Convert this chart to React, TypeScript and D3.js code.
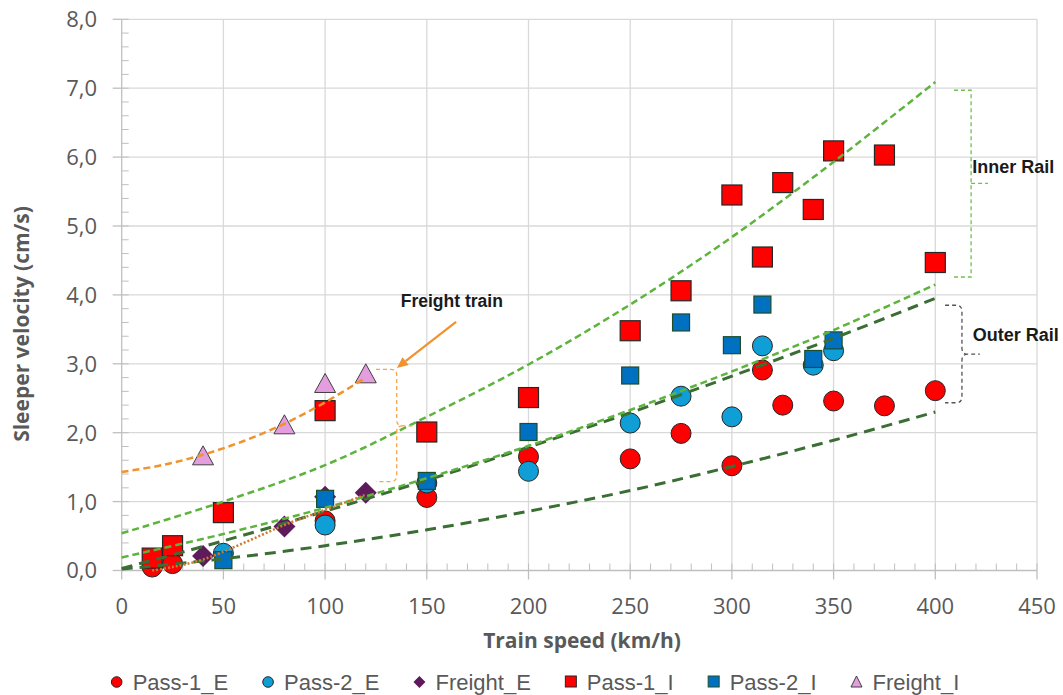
import React, { useEffect, useRef } from "react";
import * as d3 from "d3";

// ---- data ----
const pass1E_x = [15, 25, 100, 150, 200, 250, 275, 300, 315, 325, 350, 375, 400];
const pass1E_y = [0.05, 0.1, 0.72, 1.06, 1.65, 1.62, 1.99, 1.52, 2.91, 2.4, 2.46, 2.39, 2.61];
const pass2E_x = [50, 100, 150, 200, 250, 275, 300, 315, 340, 350];
const pass2E_y = [0.25, 0.66, 1.27, 1.44, 2.14, 2.53, 2.23, 3.26, 2.98, 3.19];
const freightE_x = [40, 80, 100, 120];
const freightE_y = [0.21, 0.64, 1.07, 1.13];
const pass1I_x = [15, 25, 50, 100, 150, 200, 250, 275, 300, 315, 325, 340, 350, 375, 400];
const pass1I_y = [0.18, 0.36, 0.84, 2.32, 2.01, 2.51, 3.48, 4.06, 5.45, 4.55, 5.63, 5.24, 6.09, 6.03, 4.47];
const pass2I_x = [50, 100, 150, 200, 250, 275, 300, 315, 340, 350];
const pass2I_y = [0.15, 1.04, 1.3, 2.01, 2.83, 3.6, 3.27, 3.86, 3.07, 3.34];
const freightI_x = [40, 80, 100, 120];
const freightI_y = [1.65, 2.1, 2.7, 2.84];

// trend curves
const trendX = [0, 50, 100, 150, 200, 250, 300, 350, 400];
const innerUpper = [0.54, 1.0, 1.53, 2.23, 2.99, 3.86, 4.84, 5.93, 7.09];
const innerLower = [0.19, 0.53, 0.91, 1.34, 1.81, 2.33, 2.89, 3.49, 4.15];
const outerUpper = [0.03, 0.43, 0.86, 1.31, 1.79, 2.29, 2.82, 3.37, 3.95];
const outerLower = [0.02, 0.17, 0.36, 0.59, 0.86, 1.16, 1.51, 1.89, 2.3];
const freightITrendX = [0, 20, 40, 60, 80, 100, 120];
const freightITrend = [1.43, 1.53, 1.68, 1.88, 2.13, 2.44, 2.8];
const freightETrendX = [15, 25, 40, 60, 80, 100, 120];
const freightETrend = [0.0, 0.05, 0.16, 0.4, 0.66, 0.88, 1.1];

const xTicks = [0, 50, 100, 150, 200, 250, 300, 350, 400, 450];
const yTicks = [0, 1, 2, 3, 4, 5, 6, 7, 8];
const legendNames = ["Pass-1_E", "Pass-2_E", "Freight_E", "Pass-1_I", "Pass-2_I", "Freight_I"];

const W = 1063, H = 695;

export default function App() {
  const ref = useRef<SVGSVGElement>(null);
  useEffect(() => {
    const svg = d3.select(ref.current);
    svg.selectAll("*").remove();
    const x = d3.scaleLinear().domain([0, 450]).range([121.7, 1037]);
    const y = d3.scaleLinear().domain([0, 8]).range([570.5, 19.3]);
    const gray = "#595959";
    const tickFont = "'Open Sans', sans-serif";

    // grid
    const g = svg.append("g");
    g.selectAll(".gx").data(xTicks.slice(1)).join("line")
      .attr("x1", d => x(d)).attr("x2", d => x(d)).attr("y1", y(0)).attr("y2", y(8))
      .attr("stroke", "#d9d9d9").attr("stroke-width", 1.3);
    g.selectAll(".gy").data(yTicks.slice(1)).join("line")
      .attr("x1", x(0)).attr("x2", x(450)).attr("y1", d => y(d)).attr("y2", d => y(d))
      .attr("stroke", "#d9d9d9").attr("stroke-width", 1.3);
    // minor ticks
    const yMinor = d3.range(0, 8.001, 0.2);
    g.selectAll(".my").data(yMinor).join("line")
      .attr("x1", x(0)).attr("x2", x(0) + 7).attr("y1", d => y(d)).attr("y2", d => y(d))
      .attr("stroke", "#bfbfbf").attr("stroke-width", 1);
    const xMinor = d3.range(0, 450.001, 10);
    g.selectAll(".mx").data(xMinor).join("line")
      .attr("x1", d => x(d)).attr("x2", d => x(d)).attr("y1", y(0)).attr("y2", y(0) - 7)
      .attr("stroke", "#bfbfbf").attr("stroke-width", 1);
    // major ticks
    g.selectAll(".ty").data(yTicks).join("line")
      .attr("x1", x(0) - 9).attr("x2", x(0)).attr("y1", d => y(d)).attr("y2", d => y(d))
      .attr("stroke", "#bfbfbf").attr("stroke-width", 1.3);
    g.selectAll(".tx").data(xTicks).join("line")
      .attr("x1", d => x(d)).attr("x2", d => x(d)).attr("y1", y(0)).attr("y2", y(0) + 9)
      .attr("stroke", "#bfbfbf").attr("stroke-width", 1.3);
    // axes
    g.append("line").attr("x1", x(0)).attr("x2", x(0)).attr("y1", y(0)).attr("y2", y(8))
      .attr("stroke", "#bfbfbf").attr("stroke-width", 1.3);
    g.append("line").attr("x1", x(0)).attr("x2", x(450)).attr("y1", y(0)).attr("y2", y(0))
      .attr("stroke", "#bfbfbf").attr("stroke-width", 1.3);

    // tick labels
    const fmt = (d: number) => d.toFixed(1).replace(".", ",");
    g.selectAll(".ly").data(yTicks).join("text")
      .attr("x", 97).attr("y", d => y(d)).attr("dy", "0.36em")
      .attr("text-anchor", "end").attr("font-family", tickFont).attr("font-size", 22)
      .attr("fill", gray).text(d => fmt(d));
    g.selectAll(".lx").data(xTicks).join("text")
      .attr("x", d => x(d)).attr("y", 614)
      .attr("text-anchor", "middle").attr("font-family", tickFont).attr("font-size", 22)
      .attr("fill", gray).text(d => String(d));

    // axis titles
    svg.append("text").attr("transform", `translate(29,324) rotate(-90)`)
      .attr("text-anchor", "middle").attr("font-family", tickFont).attr("font-weight", 700)
      .attr("font-size", 21).attr("fill", gray).text("Sleeper velocity (cm/s)");
    svg.append("text").attr("x", 582).attr("y", 648)
      .attr("text-anchor", "middle").attr("font-family", tickFont).attr("font-weight", 700)
      .attr("font-size", 21).attr("fill", gray).text("Train speed (km/h)");

    // markers
    const mk = svg.append("g");
    const circles = (xs: number[], ys: number[], fill: string) =>
      mk.append("g").selectAll("circle").data(xs).join("circle")
        .attr("cx", d => x(d)).attr("cy", (d, i) => y(ys[i])).attr("r", 10)
        .attr("fill", fill).attr("stroke", "#262626").attr("stroke-width", 1);
    const squares = (xs: number[], ys: number[], fill: string, s: number, stroke: string) =>
      mk.append("g").selectAll("rect").data(xs).join("rect")
        .attr("x", d => x(d) - s / 2).attr("y", (d, i) => y(ys[i]) - s / 2)
        .attr("width", s).attr("height", s)
        .attr("fill", fill).attr("stroke", stroke).attr("stroke-width", 1.2);

    circles(pass1E_x, pass1E_y, "#ff0000");
    circles(pass2E_x, pass2E_y, "#0f9ed5");
    mk.append("g").selectAll("path").data(freightE_x).join("path")
      .attr("transform", (d, i) => `translate(${x(d)},${y(freightE_y[i])})`)
      .attr("d", "M0,-11L11,0L0,11L-11,0Z").attr("fill", "#5f1a5c");
    squares(pass1I_x, pass1I_y, "#ff0000", 20, "#262626");
    squares(pass2I_x, pass2I_y, "#0070c0", 17, "#1e4d2b");
    mk.append("g").selectAll("path").data(freightI_x).join("path")
      .attr("transform", (d, i) => `translate(${x(d)},${y(freightI_y[i])})`)
      .attr("d", "M0,-11L10.5,8L-10.5,8Z").attr("fill", "#e49ddf")
      .attr("stroke", "#404040").attr("stroke-width", 1);

    // trend curves
    const tl = svg.append("g").attr("fill", "none");
    const line = d3.line<number>().curve(d3.curveCatmullRom);
    const drawTrend = (xs: number[], ys: number[], color: string, w: number, dash: string) =>
      tl.append("path")
        .attr("d", line.x(d => x(d)).y((d, i) => y(ys[i]))(xs))
        .attr("stroke", color).attr("stroke-width", w).attr("stroke-dasharray", dash);
    drawTrend(trendX, outerLower, "#3b6e34", 3, "11 7");
    drawTrend(trendX, outerUpper, "#3b6e34", 3, "11 7");
    drawTrend(trendX, innerLower, "#5cb43c", 2.5, "7 4");
    drawTrend(trendX, innerUpper, "#5cb43c", 2.5, "7 4");
    drawTrend(freightITrendX, freightITrend, "#f0922f", 2.5, "7 4");
    drawTrend(freightETrendX, freightETrend, "#d07a2e", 2.5, "2 2");

    // brackets & annotations
    const ann = svg.append("g").attr("fill", "none");
    const curly = (x0: number, x1: number, x2: number, yt: number, ym: number, yb: number) => {
      const X0 = x(x0), X1 = x(x1), X2 = x(x2), T = y(yt), M = y(ym), B = y(yb);
      const r = 6;
      return `M${X0},${T}L${X1 - r},${T}Q${X1},${T} ${X1},${T + r}L${X1},${M - r}Q${X1},${M} ${X1 + r},${M}L${X2},${M}` +
        `M${X1 + r},${M}Q${X1},${M} ${X1},${M + r}L${X1},${B - r}Q${X1},${B} ${X1 - r},${B}L${X0},${B}`;
    };
    ann.append("path").attr("d", curly(125, 135.2, 143, 2.92, 2.1, 1.29))
      .attr("stroke", "#f4a64d").attr("stroke-width", 1.3).attr("stroke-dasharray", "4 3");
    ann.append("path").attr("d", curly(404.8, 413.1, 421.9, 3.85, 3.14, 2.435))
      .attr("stroke", "#555555").attr("stroke-width", 1.3).attr("stroke-dasharray", "4 3");
    {
      const X0 = x(409.2), X1 = x(417.6), X2 = x(425.9), T = y(6.97), M = y(5.62), B = y(4.26);
      ann.append("path").attr("d", `M${X0},${T}L${X1},${T}L${X1},${B}L${X0},${B}M${X1},${M}L${X2},${M}`)
        .attr("stroke", "#70c04f").attr("stroke-width", 1.3).attr("stroke-dasharray", "4 3");
    }
    // arrow
    const ax0 = x(164.4), ay0 = y(3.61), ax1 = x(135.3), ay1 = y(2.94);
    const ang = Math.atan2(ay1 - ay0, ax1 - ax0);
    const hl = 11, hw = 5;
    const bx = ax1 - hl * Math.cos(ang), by = ay1 - hl * Math.sin(ang);
    ann.append("line").attr("x1", ax0).attr("y1", ay0).attr("x2", bx).attr("y2", by)
      .attr("stroke", "#f0922f").attr("stroke-width", 2.2);
    ann.append("path")
      .attr("d", `M${ax1},${ay1}L${bx + hw * Math.sin(ang)},${by - hw * Math.cos(ang)}L${bx - hw * Math.sin(ang)},${by + hw * Math.cos(ang)}Z`)
      .attr("fill", "#f0922f");

    const annFont = "'Liberation Sans', Arial, sans-serif";
    svg.append("text").attr("x", x(137.2)).attr("y", y(3.83)).attr("font-family", annFont)
      .attr("font-weight", 700).attr("font-size", 17.5).attr("fill", "#1a1a1a").text("Freight train");
    svg.append("text").attr("x", x(418.2)).attr("y", y(5.765)).attr("font-family", annFont)
      .attr("font-weight", 700).attr("font-size", 18).attr("fill", "#1a1a1a").text("Inner Rail");
    svg.append("text").attr("x", x(418.4)).attr("y", y(3.335)).attr("font-family", annFont)
      .attr("font-weight", 700).attr("font-size", 18).attr("fill", "#1a1a1a").text("Outer Rail");

    // legend
    const lg = svg.append("g");
    const legY = 682;
    let cx = 0;
    const gap = 40;
    const drawLegendMarker = (gg: any, i: number, px: number) => {
      if (i === 0 || i === 1) gg.append("circle").attr("cx", px).attr("cy", legY).attr("r", 5.3)
        .attr("fill", i === 0 ? "#ff0000" : "#0f9ed5").attr("stroke", "#262626").attr("stroke-width", 1);
      else if (i === 2) gg.append("path").attr("transform", `translate(${px},${legY})`)
        .attr("d", "M0,-6L6,0L0,6L-6,0Z").attr("fill", "#5f1a5c");
      else if (i === 3 || i === 4) gg.append("rect").attr("x", px - 5.5).attr("y", legY - 6).attr("width", 11).attr("height", 11)
        .attr("fill", i === 3 ? "#ff0000" : "#0070c0").attr("stroke", i === 3 ? "#262626" : "#1e4d2b").attr("stroke-width", 1);
      else gg.append("path").attr("transform", `translate(${px},${legY})`)
        .attr("d", "M0,-6L5.5,5L-5.5,5Z").attr("fill", "#e49ddf").attr("stroke", "#404040").attr("stroke-width", 1);
    };
    legendNames.forEach((name, i) => {
      drawLegendMarker(lg, i, cx);
      const t = lg.append("text").attr("x", cx + 16).attr("y", legY).attr("dy", "0.36em")
        .attr("font-family", annFont).attr("font-size", 22).attr("fill", gray).text(name);
      const w = (t.node() as SVGTextElement).getComputedTextLength();
      cx = cx + 16 + w + gap;
    });
    const totalW = cx - gap + 6;
    lg.attr("transform", `translate(${535 - totalW / 2 + 6},0)`);
  }, []);
  return <svg ref={ref} width={W} height={H} style={{ display: "block", position: "absolute", left: 0, top: 0, background: "#fff" }} />;
}
